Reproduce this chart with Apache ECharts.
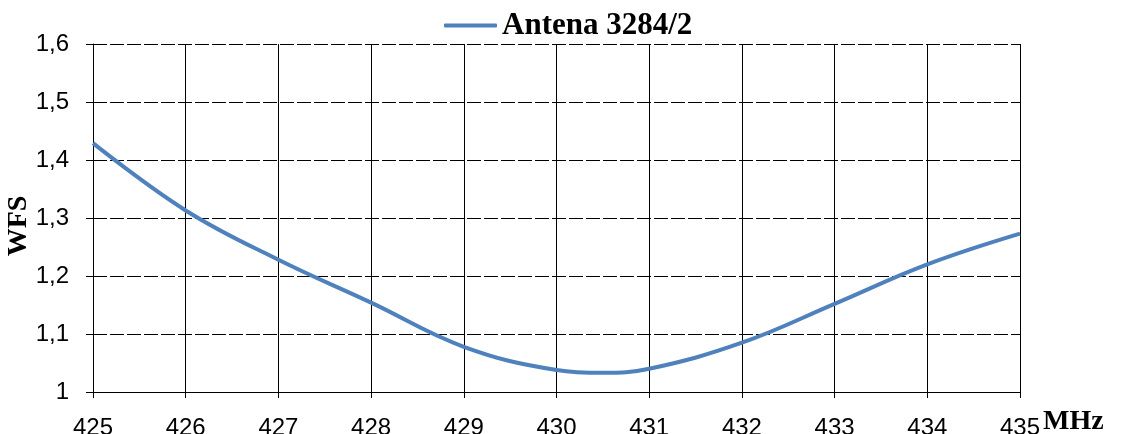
<!DOCTYPE html>
<html>
<head>
<meta charset="utf-8">
<script src="https://cdn.jsdelivr.net/npm/echarts@6/dist/echarts.min.js"></script>
<style>
  html, body { margin: 0; padding: 0; background: #fff; }
  #chart { width: 1122px; height: 434px; }
</style>
</head>
<body>
<div id="chart"></div>
<script>
// frequency in MHz and measured WFS (VSWR) values
var freq = [425, 426, 427, 428, 429, 430, 430.5, 431, 432, 433, 434, 435];
var wfs = [1.429, 1.313, 1.228, 1.154, 1.078, 1.038, 1.033, 1.040, 1.085, 1.152, 1.220, 1.273];
var seriesName = 'Antena 3284/2';

var chart = echarts.init(document.getElementById('chart'));

var points = [];
for (var i = 0; i < freq.length; i++) {
  points.push([freq[i], wfs[i]]);
}

var option = {
  animation: false,
  backgroundColor: '#fff',
  legend: {
    top: 10,
    left: 444,
    padding: 0,
    itemWidth: 53,
    itemHeight: 4,
    icon: 'roundRect',
    textStyle: {
      fontFamily: 'Liberation Serif',
      fontWeight: 'bold',
      fontSize: 31,
      color: '#000'
    },
    data: [seriesName]
  },
  grid: {
    left: 93,
    right: 102,
    top: 44,
    bottom: 42,
    containLabel: false,
    outerBoundsMode: 'none'
  },
  xAxis: {
    type: 'value',
    min: 425,
    max: 435,
    interval: 1,
    name: 'MHz',
    nameLocation: 'end',
    nameGap: 23,
    nameMoveOverlap: false,
    nameTextStyle: {
      fontFamily: 'Liberation Serif',
      fontWeight: 'bold',
      fontSize: 28,
      color: '#000',
      verticalAlign: 'top',
      padding: [16, 0, 0, 0]
    },
    axisLine: { show: true, lineStyle: { color: '#000', width: 1 } },
    axisTick: { show: true, length: 6, lineStyle: { color: '#000' } },
    axisLabel: {
      fontFamily: 'Liberation Sans',
      fontSize: 24,
      color: '#000',
      margin: 24
    },
    splitLine: { show: true, lineStyle: { color: '#000', width: 1 } }
  },
  yAxis: {
    type: 'value',
    min: 1,
    max: 1.6,
    interval: 0.1,
    name: 'WFS',
    nameLocation: 'middle',
    nameGap: 60,
    nameMoveOverlap: false,
    nameRotate: 90,
    nameTextStyle: {
      fontFamily: 'Liberation Serif',
      fontWeight: 'bold',
      fontSize: 28,
      color: '#000',
      padding: [0, 16, 0, 0]
    },
    axisLine: { show: true, lineStyle: { color: '#000', width: 1 } },
    axisTick: { show: true, length: 7, lineStyle: { color: '#000' } },
    axisLabel: {
      fontFamily: 'Liberation Sans',
      fontSize: 24,
      color: '#000',
      margin: 24,
      formatter: function (v) {
        return String(Math.round(v * 10) / 10).replace('.', ',');
      }
    },
    splitLine: {
      show: true,
      lineStyle: { color: '#000', width: 1, type: [14, 3] }
    }
  },
  series: [
    {
      name: seriesName,
      type: 'line',
      data: points,
      smooth: 0.4,
      showSymbol: false,
      lineStyle: { color: '#4F81BD', width: 4 },
      itemStyle: { color: '#4F81BD' }
    }
  ]
};

chart.setOption(option);
</script>
</body>
</html>
